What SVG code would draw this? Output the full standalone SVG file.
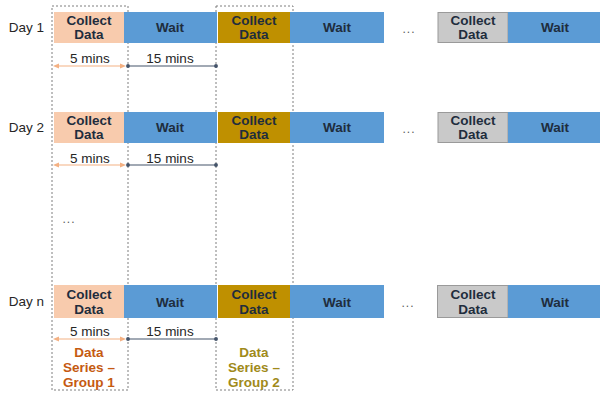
<svg xmlns="http://www.w3.org/2000/svg" width="600" height="393" viewBox="0 0 600 393">
<style>
text{font-family:"Liberation Sans",Arial,sans-serif;}
.lbl{font-size:13.5px;fill:#262626;}
.b{font-size:13.5px;font-weight:bold;fill:#1f2d3d;text-anchor:middle;}
.m{font-size:13.5px;fill:#262626;text-anchor:middle;}
.peach{fill:#F8CBAD;}
.gold{fill:#BF9000;}
.wait{fill:#5B9BD5;}
.gray{fill:#C9C9C9;stroke:#9a9a9a;stroke-width:1;}
.grp{fill:none;stroke:#7f7f7f;stroke-width:1;stroke-dasharray:2 2;}
.ao{stroke:#F4B183;stroke-width:1.2;marker-start:url(#ao);marker-end:url(#ao);}
.ab{stroke:#44546A;stroke-width:1.2;marker-start:url(#ab);marker-end:url(#ab);}
.dots{font-size:12px;fill:#595959;text-anchor:middle;letter-spacing:1px;}
.s1{font-size:13.5px;font-weight:bold;fill:#C55A11;text-anchor:middle;}
.s2{font-size:13.5px;font-weight:bold;fill:#A08A1A;text-anchor:middle;}
</style>
<defs>
<marker id="ao" viewBox="0 0 10 10" refX="5" refY="5" markerWidth="5" markerHeight="5" orient="auto-start-reverse"><path d="M0,1 L10,5 L0,9 z" fill="#F4B183"/></marker>
<marker id="ab" viewBox="0 0 10 10" refX="5" refY="5" markerWidth="4" markerHeight="4" orient="auto-start-reverse"><circle cx="5" cy="5" r="4" fill="#44546A"/></marker>
</defs>
<rect width="600" height="393" fill="#ffffff"/>

<g id="group1">
<rect class="grp" x="52" y="6" width="76" height="384"/>
<text class="s1" x="89" y="357">Data</text>
<text class="s1" x="89" y="372">Series –</text>
<text class="s1" x="89" y="387">Group 1</text>
</g>
<g id="group2">
<rect class="grp" x="216" y="6" width="77" height="384"/>
<text class="s2" x="254" y="357">Data</text>
<text class="s2" x="254" y="372">Series –</text>
<text class="s2" x="254" y="387">Group 2</text>
</g>

<g id="day1">
<text class="lbl" x="44" y="32" text-anchor="end">Day 1</text>
<rect class="peach" x="54" y="12" width="70" height="31"/>
<text class="b" x="89" y="25">Collect</text><text class="b" x="89" y="39">Data</text>
<rect class="wait" x="124" y="12" width="93" height="31"/>
<text class="b" x="170" y="32">Wait</text>
<rect class="gold" x="218" y="12" width="72" height="31"/>
<text class="b" x="254" y="25">Collect</text><text class="b" x="254" y="39">Data</text>
<rect class="wait" x="290" y="12" width="94" height="31"/>
<text class="b" x="337" y="32">Wait</text>
<text class="dots" x="409" y="33">...</text>
<rect class="gray" x="438" y="12.5" width="70" height="30"/>
<text class="b" x="473" y="25">Collect</text><text class="b" x="473" y="39">Data</text>
<rect class="wait" x="508" y="12" width="92" height="31"/>
<text class="b" x="555" y="32">Wait</text>
<text class="m" x="90" y="63">5 mins</text>
<text class="m" x="170" y="63">15 mins</text>
</g>

<g id="day2">
<text class="lbl" x="44" y="132" text-anchor="end">Day 2</text>
<rect class="peach" x="54" y="112" width="70" height="31"/>
<text class="b" x="89" y="125">Collect</text><text class="b" x="89" y="139">Data</text>
<rect class="wait" x="124" y="112" width="93" height="31"/>
<text class="b" x="170" y="132">Wait</text>
<rect class="gold" x="218" y="112" width="72" height="31"/>
<text class="b" x="254" y="125">Collect</text><text class="b" x="254" y="139">Data</text>
<rect class="wait" x="290" y="112" width="94" height="31"/>
<text class="b" x="337" y="132">Wait</text>
<text class="dots" x="409" y="133">...</text>
<rect class="gray" x="438" y="112.5" width="70" height="30"/>
<text class="b" x="473" y="125">Collect</text><text class="b" x="473" y="139">Data</text>
<rect class="wait" x="508" y="112" width="92" height="31"/>
<text class="b" x="555" y="132">Wait</text>
<text class="m" x="90" y="163">5 mins</text>
<text class="m" x="170" y="163">15 mins</text>
</g>

<g id="middots">
<text class="dots" x="69" y="223">...</text>
</g>

<g id="dayn">
<text class="lbl" x="44" y="306" text-anchor="end">Day n</text>
<rect class="peach" x="54" y="285" width="70" height="33"/>
<text class="b" x="89" y="299">Collect</text><text class="b" x="89" y="314">Data</text>
<rect class="wait" x="124" y="285" width="93" height="33"/>
<text class="b" x="170" y="307">Wait</text>
<rect class="gold" x="218" y="285" width="72" height="33"/>
<text class="b" x="254" y="299">Collect</text><text class="b" x="254" y="314">Data</text>
<rect class="wait" x="290" y="285" width="94" height="33"/>
<text class="b" x="337" y="307">Wait</text>
<text class="dots" x="408" y="307">...</text>
<rect class="gray" x="437.5" y="285.5" width="70.5" height="32"/>
<text class="b" x="473" y="299">Collect</text><text class="b" x="473" y="314">Data</text>
<rect class="wait" x="508" y="285" width="92" height="33"/>
<text class="b" x="555" y="307">Wait</text>
<text class="m" x="90" y="336">5 mins</text>
<text class="m" x="170" y="336">15 mins</text>
</g>

<g id="connectors">
<line class="ao" x1="56" y1="66" x2="123" y2="66"/>
<line class="ab" x1="128" y1="66" x2="216" y2="66"/>
<line class="ao" x1="56" y1="165" x2="123" y2="165"/>
<line class="ab" x1="128" y1="165" x2="216" y2="165"/>
<line class="ao" x1="56" y1="339" x2="123" y2="339"/>
<line class="ab" x1="128" y1="339" x2="216" y2="339"/>
</g>
</svg>
